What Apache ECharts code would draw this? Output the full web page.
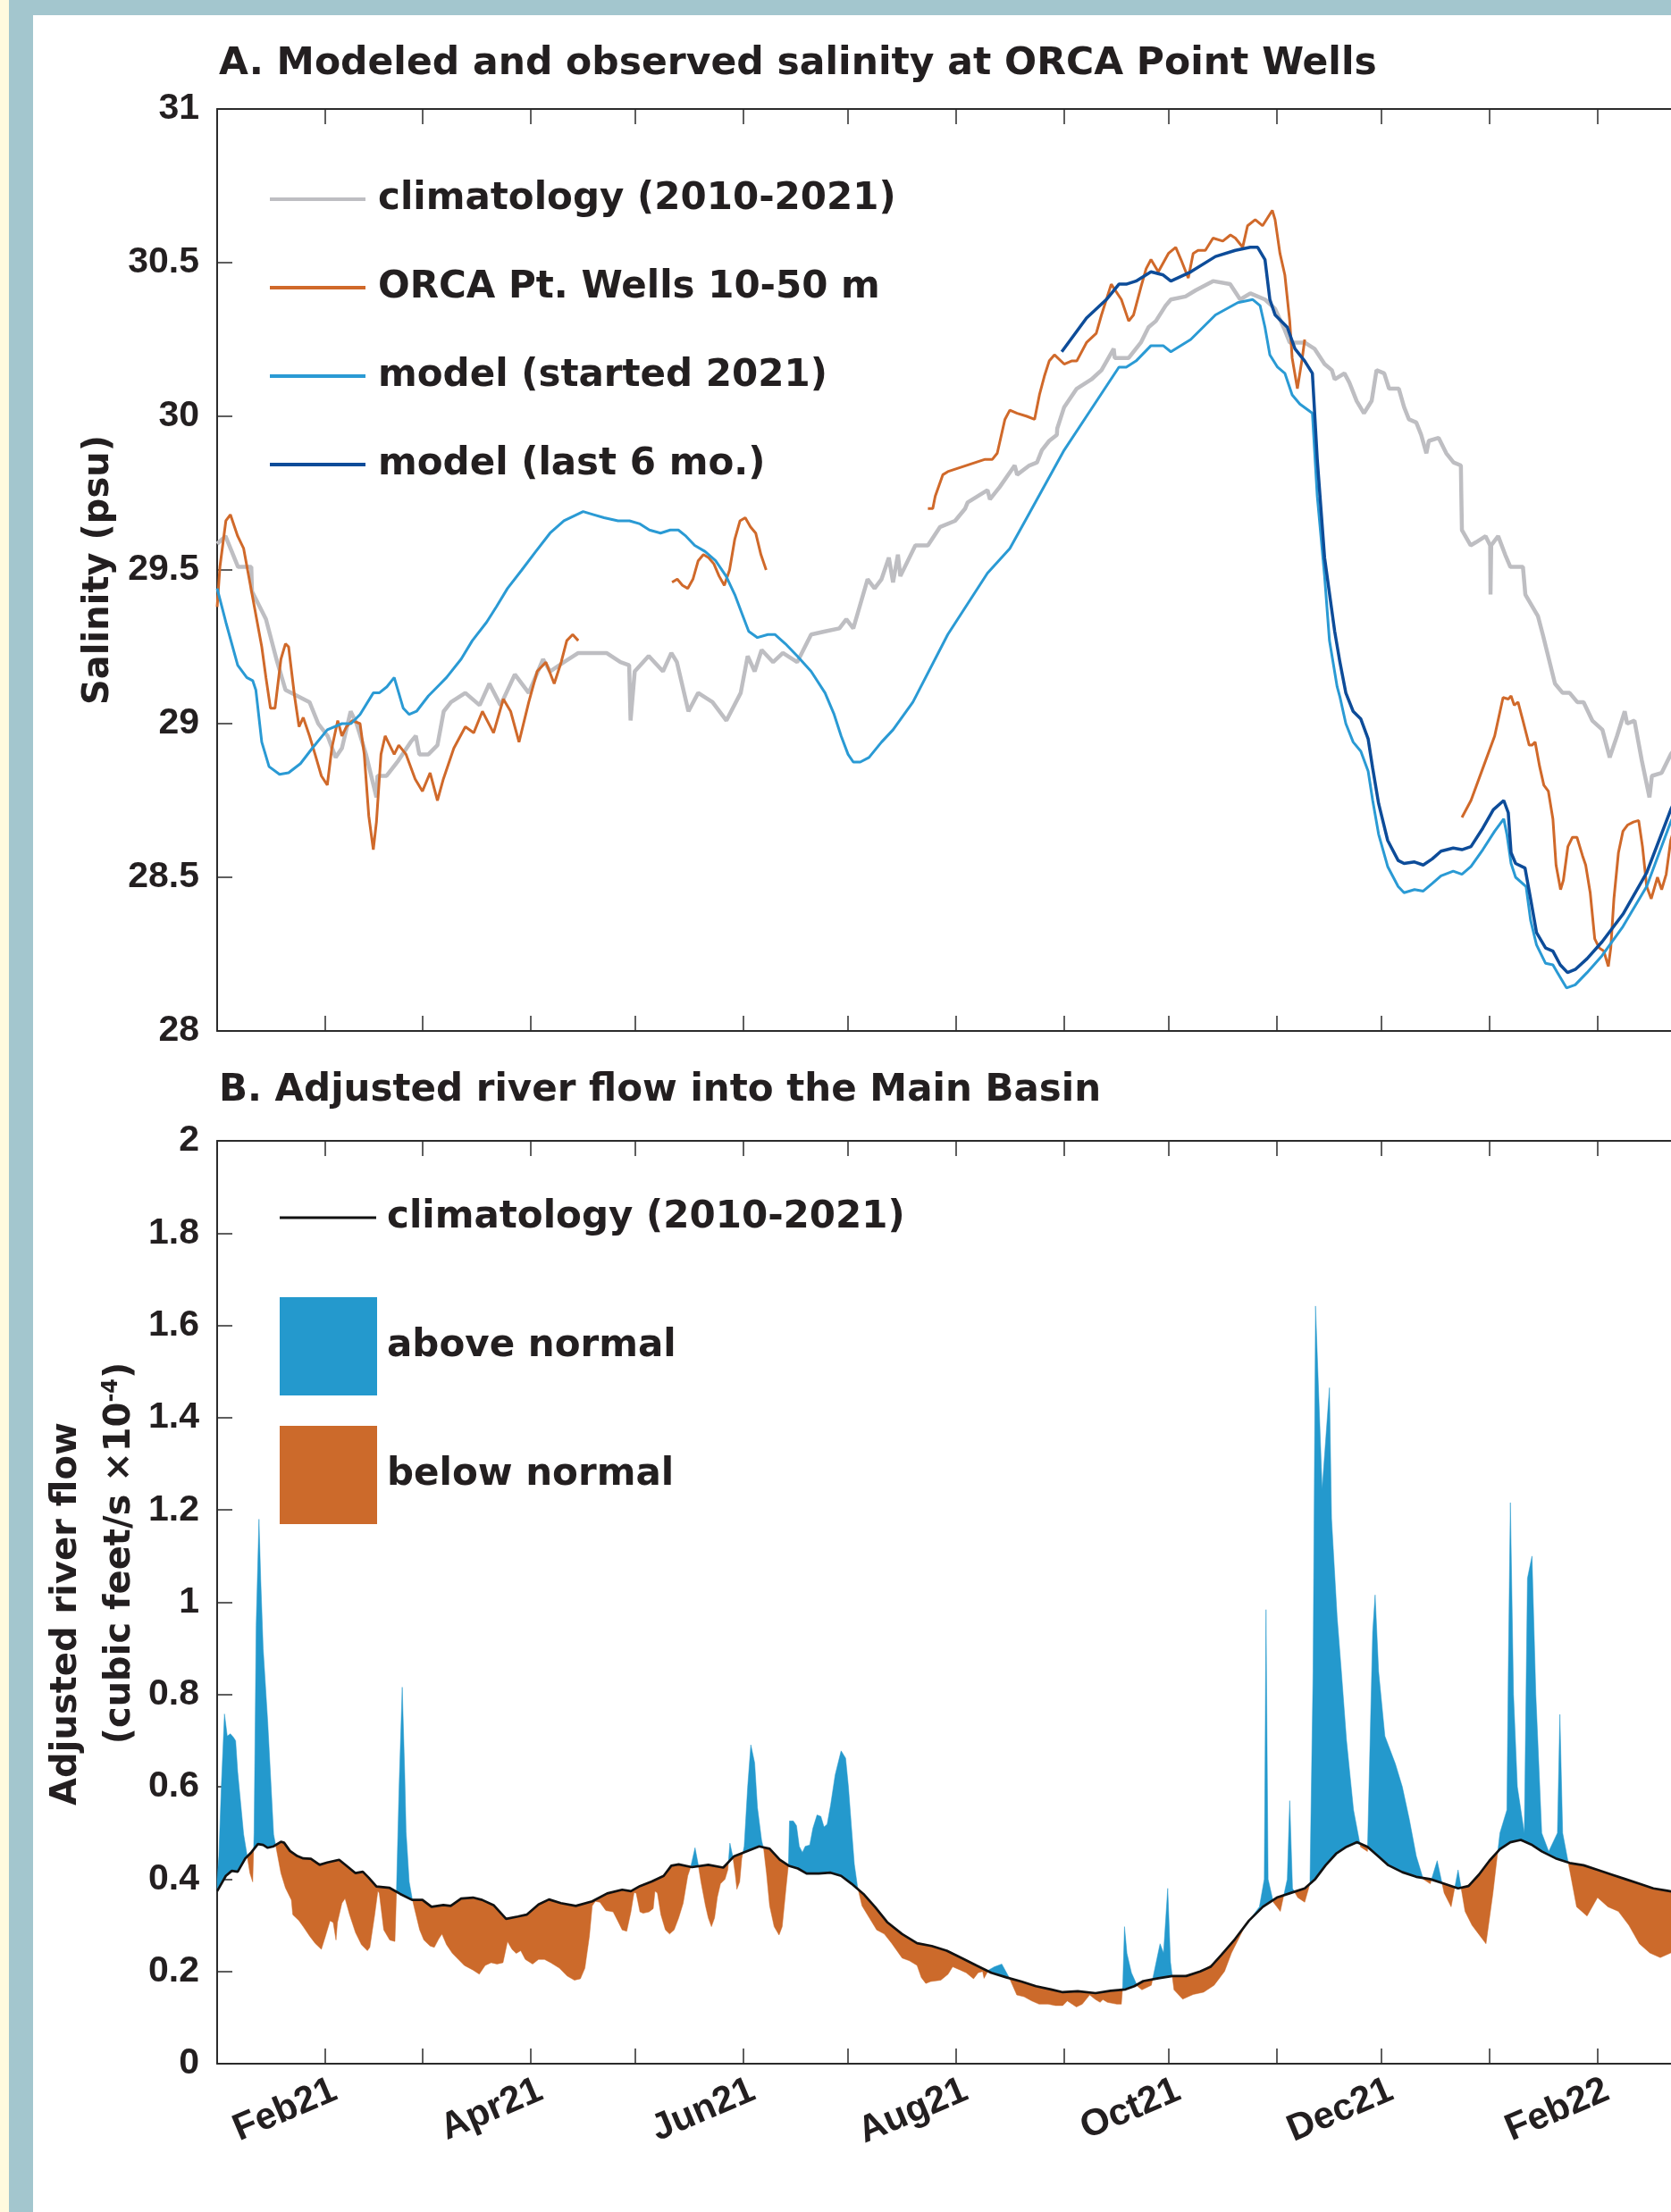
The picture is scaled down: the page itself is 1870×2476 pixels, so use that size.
<!DOCTYPE html>
<html><head><meta charset="utf-8">
<script src="https://cdn.jsdelivr.net/npm/echarts@6/dist/echarts.min.js"></script>
<style>html,body{margin:0;padding:0;background:#fff;}#c{width:1870px;height:2476px;}</style>
</head><body><div id="c"></div>
<script>
// x = days since 1 Jan 2021
const monthStartDays = [0,31,59,90,120,151,181,212,243,273,304,334,365,396,424];
const labelDays = [31,90,151,212,273,334,396];
const labelNames = ['Feb21','Apr21','Jun21','Aug21','Oct21','Dec21','Feb22'];

// ---------- Panel A: salinity (psu) ----------
const salClim = [[0,29.585],[2.4,29.61],[6,29.51],[9.8,29.51],[10,29.43],[14,29.34],[17,29.21],[19.6,29.11],[23,29.09],[26.5,29.07],[29,29.0],[31.7,28.96],[34,28.89],[35.8,28.92],[38.3,29.04],[40,29.0],[42.7,28.9],[45.7,28.76],[46,28.83],[48.6,28.83],[52,28.88],[55.5,28.94],[57,28.96],[58,28.9],[60.6,28.9],[63.2,28.93],[65,29.04],[67.1,29.07],[71.2,29.1],[75.3,29.06],[78.1,29.13],[81.3,29.06],[85.4,29.16],[89.4,29.1],[93.5,29.21],[95.5,29.17],[99.5,29.2],[103.6,29.23],[107.6,29.23],[111.7,29.23],[115.7,29.2],[118.2,29.19],[118.6,29.01],[119.8,29.17],[123.8,29.22],[127.9,29.17],[130.3,29.23],[131.9,29.2],[135.2,29.04],[138,29.1],[142.1,29.07],[146.1,29.01],[150.2,29.1],[152.2,29.22],[154.2,29.17],[156.2,29.24],[159.5,29.2],[162.3,29.23],[166.4,29.2],[170.4,29.29],[174.4,29.3],[178.5,29.31],[180.5,29.34],[182.5,29.31],[186.6,29.47],[188.6,29.44],[190.6,29.47],[192.7,29.54],[193.9,29.46],[195.3,29.55],[196,29.48],[200.3,29.58],[203.9,29.58],[207.4,29.64],[211.7,29.66],[214.6,29.7],[215.3,29.72],[221,29.76],[221.7,29.73],[224.5,29.77],[228.8,29.84],[229.5,29.81],[233,29.84],[235.2,29.85],[236.6,29.89],[238.7,29.92],[240.9,29.94],[241,29.96],[243,30.03],[246.6,30.09],[250.8,30.12],[253.7,30.15],[257.2,30.22],[257.5,30.19],[261.5,30.19],[265,30.24],[267.2,30.29],[269.3,30.31],[272.1,30.36],[273.6,30.38],[277.8,30.39],[280.7,30.41],[285.7,30.44],[290.6,30.43],[293.5,30.38],[296.4,30.4],[300.6,30.38],[303.5,30.35],[306.3,30.28],[307.7,30.24],[312,30.24],[314.8,30.22],[317.7,30.17],[319.8,30.15],[320.6,30.12],[323.4,30.14],[324.8,30.11],[326.9,30.05],[329,30.01],[331.2,30.05],[332.6,30.15],[334.8,30.14],[336.2,30.09],[339,30.09],[340.5,30.03],[341.9,29.99],[344,29.98],[345.4,29.94],[346.9,29.88],[347.6,29.92],[350.4,29.93],[352.6,29.88],[354.7,29.85],[356.8,29.84],[356.9,29.76],[357.1,29.63],[359.6,29.58],[361.1,29.59],[363.9,29.61],[365.2,29.58],[365.3,29.42],[365.5,29.58],[367.5,29.61],[369.5,29.55],[371,29.51],[372.5,29.51],[374.6,29.51],[375.3,29.42],[378.9,29.35],[380.3,29.29],[383.8,29.13],[386,29.1],[388,29.1],[390.2,29.07],[392,29.07],[394.5,29.01],[397.4,28.98],[399.5,28.89],[401.6,28.96],[403.8,29.04],[404.5,29.0],[406.6,29.01],[408.7,28.88],[410.9,28.76],[411.6,28.83],[414.4,28.84],[417,28.9],[421,28.96]];

const orcaSeg1 = [[0,29.38],[0.8,29.51],[2.5,29.66],[3.8,29.68],[5.9,29.61],[7.6,29.57],[10.2,29.41],[12.8,29.25],[14,29.15],[15.3,29.05],[16.6,29.05],[18.3,29.21],[19.6,29.26],[20.5,29.25],[22.2,29.09],[23.5,28.99],[24.7,29.02],[26.5,28.96],[28.1,28.9],[29.9,28.83],[31.6,28.8],[32.9,28.92],[34.6,29.01],[35.8,28.96],[37.1,28.99],[38.8,29.01],[41,29.0],[42.2,28.9],[43.5,28.7],[44.8,28.59],[45.7,28.68],[47,28.9],[48.2,28.96],[49.5,28.93],[50.8,28.9],[52.1,28.93],[54.2,28.9],[56.8,28.82],[58.9,28.78],[61.1,28.84],[63.2,28.75],[64.9,28.82],[67.9,28.92],[71.2,28.99],[73.6,28.97],[76.1,29.04],[79.3,28.97],[82.1,29.08],[84.2,29.04],[86.6,28.94],[89.4,29.07],[91.8,29.17],[94.3,29.2],[96.7,29.13],[98.7,29.2],[100.3,29.27],[102,29.29],[103.6,29.27]];
const orcaSeg2 = [[130.5,29.46],[132,29.47],[133.5,29.45],[135,29.44],[136.5,29.47],[138,29.53],[139.5,29.55],[141,29.54],[142.5,29.52],[144,29.48],[145.5,29.45],[147,29.5],[148.5,29.6],[150,29.66],[151.5,29.67],[153,29.64],[154.5,29.62],[156,29.55],[157.5,29.5]];
const orcaSeg3 = [[203.9,29.7],[205.3,29.7],[206,29.74],[208.2,29.81],[209.6,29.82],[220.3,29.86],[222.4,29.86],[223.8,29.88],[226,29.99],[227.4,30.02],[229.5,30.01],[232.3,30.0],[234.5,29.99],[235.9,30.07],[237.3,30.13],[238.7,30.18],[240.2,30.2],[243,30.17],[245.1,30.18],[246.6,30.18],[249.4,30.24],[252.2,30.27],[253.7,30.33],[256.5,30.43],[259.4,30.38],[261.5,30.31],[262.9,30.33],[265,30.42],[266.5,30.48],[267.9,30.51],[270,30.47],[272.9,30.53],[275,30.55],[276.5,30.51],[278.6,30.45],[280,30.53],[281.4,30.54],[283.5,30.54],[285.7,30.58],[288.5,30.57],[290.7,30.59],[292.1,30.58],[294.2,30.55],[295.6,30.62],[297.8,30.64],[299.9,30.62],[302.7,30.67],[303.5,30.64],[304.9,30.53],[306.3,30.46],[307.7,30.31],[308.4,30.19],[309.9,30.09],[311.3,30.19],[312,30.25]];
const orcaSeg4 = [[357.1,28.695],[359.7,28.75],[363.1,28.855],[366.5,28.96],[368.9,29.085],[370.4,29.08],[371.2,29.09],[372.1,29.06],[373.2,29.07],[374.6,29.01],[376.4,28.93],[377.2,28.93],[378.1,28.94],[379.4,28.86],[380.6,28.8],[381.9,28.78],[383.2,28.69],[384.1,28.54],[385.4,28.46],[386.2,28.49],[387.5,28.6],[388.8,28.63],[390.1,28.63],[391.7,28.57],[392.6,28.54],[393.9,28.45],[395.2,28.3],[396.5,28.27],[397.8,28.26],[399.1,28.21],[399.8,28.27],[400.7,28.43],[402,28.58],[403.3,28.65],[404.6,28.67],[406.3,28.68],[407.8,28.685],[408.9,28.6],[410.1,28.47],[411.4,28.43],[413.2,28.5],[414.4,28.46],[415.7,28.51],[417,28.62],[419,28.7]];

const modelStart = [[0,29.44],[2.5,29.33],[5.9,29.19],[8.5,29.15],[10.2,29.14],[11.1,29.11],[12.8,28.94],[14.9,28.86],[17.9,28.835],[20.5,28.84],[23.9,28.87],[27.3,28.92],[31.6,28.98],[35.8,29.0],[38.4,29.0],[41,29.03],[44.8,29.1],[46.5,29.1],[48.7,29.12],[50.8,29.15],[52.1,29.1],[53.4,29.05],[55.1,29.03],[57.2,29.04],[60.6,29.09],[63.2,29.12],[65.8,29.15],[70,29.21],[73.2,29.27],[77.3,29.33],[80.1,29.38],[83.3,29.44],[87.4,29.5],[91.4,29.56],[95.5,29.62],[99.5,29.66],[105,29.69],[108,29.68],[111,29.67],[115,29.66],[118.3,29.66],[121.3,29.65],[124,29.63],[127.2,29.62],[130,29.63],[132.3,29.63],[134.5,29.61],[137,29.58],[140,29.56],[143,29.53],[146,29.48],[148.5,29.42],[150.5,29.36],[152.5,29.3],[155,29.28],[158,29.29],[160,29.29],[163,29.26],[166.4,29.22],[170.4,29.17],[174.4,29.1],[177,29.03],[179,28.96],[181,28.9],[182.5,28.875],[184.5,28.875],[187,28.89],[190.6,28.94],[193.9,28.98],[199.6,29.07],[209.6,29.29],[221,29.49],[227.4,29.57],[232.3,29.67],[243,29.89],[249.4,30.0],[258.7,30.16],[260.8,30.16],[263.6,30.18],[267.9,30.23],[271.4,30.23],[273.6,30.21],[279.3,30.25],[286.4,30.33],[292.8,30.37],[297.1,30.38],[299.2,30.36],[300.6,30.29],[302,30.2],[304.2,30.16],[306.3,30.14],[308.4,30.07],[310.6,30.04],[314.2,30.01],[315.6,29.74],[317.7,29.48],[319.1,29.27],[321.3,29.12],[322.1,29.087],[323.8,29.0],[325.9,28.94],[328.1,28.91],[330.2,28.845],[331.5,28.75],[333.2,28.64],[335.8,28.535],[338.8,28.47],[340.5,28.45],[343.5,28.46],[346,28.455],[348.6,28.48],[351.1,28.505],[354.6,28.52],[357.1,28.51],[359.7,28.535],[363.1,28.59],[366.5,28.65],[369.1,28.69],[370,28.64],[371.2,28.545],[372.5,28.5],[375.5,28.47],[376.8,28.36],[378.5,28.28],[381.1,28.22],[383.2,28.215],[384.5,28.19],[387.1,28.14],[389.6,28.15],[393,28.19],[397.3,28.245],[403.3,28.34],[410.1,28.47],[417,28.68],[421,28.78]];

const modelLast = [[242.3,30.21],[249.4,30.32],[255.1,30.38],[258.7,30.43],[260.8,30.43],[263.6,30.44],[267.9,30.47],[271.4,30.46],[273.6,30.44],[279.3,30.47],[286.4,30.52],[292.1,30.54],[296.4,30.55],[298.5,30.55],[300.6,30.51],[302,30.38],[303.5,30.33],[307,30.29],[309.2,30.22],[312,30.18],[314.2,30.14],[315.6,29.86],[317.7,29.54],[320.6,29.3],[322.1,29.2],[323.8,29.1],[325.9,29.04],[328.1,29.015],[330.2,28.95],[331.5,28.855],[333.2,28.74],[335.8,28.62],[338.8,28.555],[340.5,28.545],[343.5,28.55],[346,28.54],[348.6,28.56],[351.1,28.585],[354.6,28.595],[357.1,28.59],[359.7,28.6],[363.1,28.66],[366.1,28.72],[369.1,28.75],[370.4,28.71],[371.2,28.58],[372.5,28.545],[375.2,28.53],[376.8,28.43],[378.5,28.32],[381.1,28.27],[383.2,28.26],[385.3,28.215],[387.4,28.19],[389.6,28.2],[393,28.235],[397.3,28.29],[403.3,28.38],[410.1,28.515],[417,28.72],[421,28.82]];

// ---------- Panel B: adjusted river flow (cubic feet/s x 1e-4) ----------
const flowClim = [[0,0.374],[2.5,0.407],[4.2,0.418],[5.9,0.416],[8.1,0.445],[9.8,0.458],[11.7,0.476],[13.2,0.474],[14.5,0.468],[16.2,0.471],[18.3,0.481],[19.2,0.479],[20.9,0.461],[23,0.45],[24.7,0.445],[26.9,0.444],[29.4,0.431],[31.6,0.436],[35,0.442],[37.6,0.426],[39.7,0.413],[41.8,0.416],[43.5,0.403],[45.7,0.384],[49.5,0.381],[52.5,0.368],[55.9,0.355],[58.9,0.355],[61.5,0.34],[64.9,0.344],[67,0.342],[70,0.358],[73.4,0.36],[76,0.355],[79.4,0.343],[82.9,0.314],[86.3,0.319],[88.8,0.323],[92.2,0.345],[95.2,0.356],[98.6,0.348],[102.9,0.342],[107.6,0.352],[111.9,0.369],[116.2,0.377],[118.7,0.374],[121.3,0.385],[124.7,0.395],[128.1,0.407],[130.3,0.429],[132.4,0.432],[136.2,0.426],[140.9,0.431],[145.2,0.425],[148.2,0.449],[152.1,0.461],[155.5,0.471],[158.5,0.466],[161.4,0.442],[164,0.429],[166.6,0.423],[169.1,0.412],[172.6,0.412],[176,0.414],[179,0.407],[182,0.39],[185.4,0.368],[188.8,0.339],[192.2,0.307],[196.5,0.281],[200.8,0.261],[205,0.255],[209.3,0.245],[213.6,0.229],[217.8,0.213],[222.1,0.197],[226.4,0.187],[230.7,0.178],[234.9,0.168],[239.2,0.161],[242.6,0.155],[246.9,0.157],[252,0.153],[256.3,0.158],[260.6,0.161],[263.1,0.168],[265.7,0.179],[270,0.185],[274,0.19],[278,0.19],[282,0.2],[285,0.21],[288,0.235],[292,0.27],[296,0.31],[300,0.34],[304,0.36],[308,0.37],[312,0.38],[315,0.4],[318,0.43],[321,0.455],[324,0.47],[327,0.48],[330,0.47],[333,0.45],[336,0.43],[340,0.415],[344,0.405],[348,0.4],[352,0.39],[356,0.38],[359,0.385],[362,0.41],[365,0.44],[368,0.465],[371,0.48],[374,0.485],[377,0.475],[380,0.46],[384,0.445],[388,0.435],[392,0.43],[396,0.42],[400,0.41],[404,0.4],[408,0.39],[412,0.38],[416,0.375],[420,0.37]];

const flowObs = [[0,0.4],[0.5,0.45],[1.2,0.6],[2.1,0.758],[2.9,0.71],[3.8,0.715],[4.7,0.707],[5.3,0.7],[5.9,0.632],[6.8,0.561],[7.6,0.497],[8.3,0.465],[9.4,0.413],[10.2,0.394],[10.6,0.5],[11.2,0.95],[12,1.18],[12.5,1.05],[13.2,0.9],[14.5,0.742],[16.2,0.497],[17,0.465],[18.3,0.413],[19.6,0.381],[21.3,0.355],[21.7,0.323],[23.5,0.31],[24.7,0.297],[26.5,0.277],[28.1,0.261],[29.9,0.248],[31.1,0.277],[32.4,0.31],[33.3,0.306],[34.1,0.268],[34.5,0.306],[35.8,0.348],[36.7,0.358],[38,0.323],[39.7,0.284],[41.4,0.258],[43.1,0.245],[43.8,0.252],[45.2,0.323],[46.1,0.374],[46.5,0.37],[47.8,0.29],[49.5,0.268],[51,0.265],[51.4,0.361],[52.2,0.6],[53.1,0.816],[53.8,0.632],[54.2,0.503],[55.1,0.394],[55.9,0.36],[56.5,0.34],[58.1,0.29],[59.3,0.268],[61.1,0.255],[62.3,0.252],[63.6,0.271],[64.5,0.281],[65.8,0.258],[67.5,0.239],[69.2,0.226],[70.9,0.213],[73.4,0.203],[75.2,0.194],[76.9,0.213],[78.6,0.219],[80.3,0.216],[82,0.219],[83.3,0.265],[84.6,0.248],[85.8,0.239],[87.1,0.245],[88.4,0.226],[90.5,0.216],[92.2,0.226],[93.9,0.226],[95.7,0.219],[98.2,0.207],[100.4,0.19],[102.5,0.181],[104.2,0.184],[105.5,0.207],[106.8,0.277],[107.6,0.342],[108.5,0.352],[109.8,0.35],[111.5,0.332],[113.6,0.329],[114.9,0.31],[116.2,0.29],[117.5,0.287],[118.7,0.329],[119.6,0.371],[120.2,0.37],[121.3,0.329],[122.2,0.326],[123.9,0.329],[125.1,0.336],[125.6,0.374],[126.3,0.37],[127.3,0.323],[128.6,0.29],[129.8,0.281],[131.1,0.29],[132.4,0.316],[133.7,0.348],[135,0.407],[135.8,0.425],[137.1,0.468],[138,0.432],[138.8,0.394],[140.1,0.342],[140.9,0.316],[141.8,0.297],[142.7,0.316],[143.5,0.361],[144.4,0.39],[145.7,0.4],[146.5,0.42],[147.1,0.478],[147.9,0.45],[148.6,0.413],[149.1,0.378],[149.9,0.394],[150.5,0.445],[151.2,0.471],[152.2,0.6],[153.1,0.691],[154.2,0.652],[155,0.555],[156.2,0.484],[156.8,0.465],[157.6,0.413],[158.5,0.342],[159.8,0.297],[161.2,0.279],[162.1,0.297],[163.2,0.381],[163.9,0.432],[164.2,0.526],[165.3,0.526],[166.2,0.516],[167,0.471],[167.9,0.458],[168.7,0.471],[170,0.474],[170.9,0.51],[172.1,0.539],[173.2,0.536],[174.1,0.513],[175,0.519],[176,0.561],[177.3,0.626],[179,0.678],[180.3,0.662],[181.1,0.6],[182,0.51],[182.8,0.432],[183.7,0.384],[185,0.342],[187.1,0.316],[189.2,0.29],[191.4,0.281],[193.5,0.261],[196.5,0.229],[198.6,0.223],[200.8,0.213],[202,0.187],[203.3,0.174],[204.7,0.178],[207.6,0.181],[209.7,0.194],[211,0.21],[213.2,0.203],[214.9,0.197],[217,0.184],[218.3,0.197],[219.6,0.2],[220,0.185],[221.3,0.203],[223,0.21],[225.1,0.216],[227.2,0.187],[229.4,0.149],[231.5,0.145],[233.7,0.136],[235.8,0.129],[238.4,0.129],[240.5,0.126],[242.6,0.126],[243.9,0.136],[246.5,0.123],[248.2,0.129],[250.3,0.149],[252,0.139],[253.3,0.133],[254.1,0.139],[255.4,0.133],[258.1,0.129],[259.4,0.129],[259.8,0.17],[260.3,0.297],[261,0.239],[262.3,0.197],[264,0.168],[265.3,0.16],[268,0.17],[270.5,0.26],[271.5,0.24],[272.7,0.38],[273.5,0.22],[274.5,0.16],[277,0.14],[280,0.15],[283,0.155],[286,0.17],[289,0.2],[291,0.24],[293,0.27],[295,0.3],[297,0.32],[299,0.34],[300.4,0.4],[300.9,0.984],[301.5,0.4],[303,0.35],[305,0.33],[307,0.4],[307.7,0.57],[308.5,0.38],[310,0.36],[312,0.35],[313.5,0.39],[314.4,0.85],[315.1,1.642],[317,1.245],[319.1,1.465],[319.7,1.181],[321.3,0.968],[322.5,0.852],[324,0.7],[326,0.55],[328,0.47],[330,0.46],[331.5,0.936],[332.2,1.016],[333.2,0.85],[335,0.71],[338,0.65],[340,0.6],[342,0.53],[344,0.45],[346,0.4],[348,0.39],[350,0.44],[352,0.37],[354,0.34],[356,0.42],[358,0.33],[360,0.3],[362,0.28],[364,0.26],[366,0.37],[368,0.5],[370,0.55],[370.4,0.85],[371,1.216],[371.9,0.8],[373,0.6],[375,0.5],[375.9,1.052],[377.2,1.1],[378.3,0.8],[380,0.5],[382,0.46],[384.5,0.5],[385.2,0.757],[386,0.5],[388,0.42],[390,0.34],[393,0.32],[396,0.36],[399,0.34],[402,0.33],[405,0.3],[408,0.26],[411,0.24],[414,0.23],[417,0.24],[420,0.26]];

// ---------- build ----------
const C_GRAY = '#BEBEC2', C_ORCA = '#D0692A', C_LB = '#2A9AD4', C_DB = '#0D4C99';
const C_ABOVE = '#2499CD', C_BELOW = '#CC6A2B', INK = '#231f20', AX = '#2b2b2b';
const TF = '"Liberation Sans", Arial, Helvetica, sans-serif';
const DF = '"DejaVu Sans", sans-serif';

function climAt(d) {
  for (let i = 1; i < flowClim.length; i++) {
    if (d <= flowClim[i][0]) {
      const [d0, v0] = flowClim[i-1], [d1, v1] = flowClim[i];
      return v0 + (v1 - v0) * (d - d0) / (d1 - d0);
    }
  }
  return flowClim[flowClim.length-1][1];
}
// contiguous regions between observed flow and climatology, split where they cross
function buildRegions() {
  const out = [];
  const sgn = e => (e > 0 ? 1 : (e < 0 ? -1 : 0));
  let cur = null;
  for (let i = 0; i < flowObs.length; i++) {
    const [d, o] = flowObs[i], c = climAt(d), s = sgn(o - c);
    if (!cur) { cur = { s: s || 1, top: [[d, o]], bot: [[d, c]] }; continue; }
    if (s === 0 || s === cur.s) { cur.top.push([d, o]); cur.bot.push([d, c]); continue; }
    const [pd, po] = flowObs[i-1], pc = climAt(pd);
    const e0 = po - pc, e1 = o - c, t = e0 / (e0 - e1);
    const xd = pd + t * (d - pd), xy = pc + t * (c - pc);
    cur.top.push([xd, xy]); cur.bot.push([xd, xy]); out.push(cur);
    cur = { s, top: [[xd, xy], [d, o]], bot: [[xd, xy], [d, c]] };
  }
  out.push(cur);
  return out;
}
const regions = buildRegions();
const regAbove = regions.filter(r => r.s > 0), regBelow = regions.filter(r => r.s < 0);
function regionData(list) {
  return list.map((r, i) => {
    const ys = r.top.concat(r.bot).map(p => p[1]);
    return [r.top[0][0], r.top[r.top.length-1][0], i, Math.min(...ys), Math.max(...ys)];
  });
}
function regionRenderer(list, color) {
  return function (params, api) {
    const r = list[api.value(2)];
    const pts = r.top.concat(r.bot.slice().reverse()).map(p => api.coord(p));
    return { type: 'polygon', shape: { points: pts }, style: { fill: color, stroke: color, lineWidth: 0.5 } };
  };
}
const gap = [null, null];
const orcaAll = [...orcaSeg1, gap, ...orcaSeg2, gap, ...orcaSeg3, gap, ...orcaSeg4];

function xAx(gridIndex, position, labels) {
  return {
    type: 'value', gridIndex, position, min: 0, max: 424,
    axisLine: { show: true, onZero: false, lineStyle: { color: AX, width: 2 } },
    axisTick: { show: true, inside: true, length: 17, customValues: monthStartDays, lineStyle: { color: AX, width: 1.5 } },
    axisLabel: labels ? {
      show: true, customValues: labelDays, rotate: 23, margin: 33, padding: [0, -12, 0, 0],
      formatter: v => labelNames[labelDays.indexOf(Math.round(v))],
      fontFamily: TF, fontWeight: 'bold', fontSize: 42, color: INK
    } : { show: false },
    splitLine: { show: false }
  };
}
function yAx(gridIndex, min, max, interval, name, nameGap, nameStyle) {
  return {
    type: 'value', gridIndex, min, max, interval,
    axisLine: { show: true, lineStyle: { color: AX, width: 2 } },
    axisTick: { show: true, inside: true, length: 17, lineStyle: { color: AX, width: 1.5 } },
    axisLabel: { fontFamily: TF, fontWeight: 'bold', fontSize: 41, color: INK, margin: 20 },
    splitLine: { show: false },
    name, nameLocation: 'middle', nameRotate: 90, nameGap, nameMoveOverlap: false,
    nameTextStyle: nameStyle
  };
}
const lineBase = { type: 'line', symbol: 'none', showSymbol: false, animation: false, smooth: false };
const yNameB = '{l1|Adjusted river flow}\n{l2|(cubic feet/s \u00d710}{sup|-4}{l2e|)}';

const option = {
  animation: false,
  backgroundColor: '#ffffff',
  graphic: [
    { type: 'rect', shape: { x: 0, y: 0, width: 1870, height: 17 }, style: { fill: '#A3C6CE' }, silent: true },
    { type: 'rect', shape: { x: 0, y: 0, width: 37, height: 2476 }, style: { fill: '#A3C6CE' }, silent: true },
    { type: 'rect', shape: { x: 0, y: 0, width: 10, height: 2476 }, style: { fill: '#FFFADE' }, silent: true }
  ],
  title: [
    { text: 'A. Modeled and observed salinity at ORCA Point Wells', left: 245, top: 50, padding: 0,
      textStyle: { fontFamily: DF, fontWeight: 'bold', fontSize: 42.5, color: INK } },
    { text: 'B. Adjusted river flow into the Main Basin', left: 245, top: 1200, padding: 0,
      textStyle: { fontFamily: DF, fontWeight: 'bold', fontSize: 42, color: INK } }
  ],
  legend: [
    { left: 302, top: 202, orient: 'vertical', padding: 0, itemWidth: 107, itemHeight: 4, itemGap: 57, icon: 'rect', selectedMode: false,
      textStyle: { fontFamily: DF, fontWeight: 'bold', fontSize: 42, color: INK, padding: [0, 0, 0, 9] },
      data: ['climatology (2010-2021)', 'ORCA Pt. Wells 10-50 m', 'model (started 2021)', 'model (last 6 mo.)'] },
    { left: 313, top: 1342, orient: 'vertical', padding: 0, itemWidth: 108, itemHeight: 3, icon: 'rect', selectedMode: false,
      formatter: () => 'climatology (2010-2021)',
      textStyle: { fontFamily: DF, fontWeight: 'bold', fontSize: 42, color: INK, padding: [0, 0, 0, 7] },
      data: ['flow climatology'] },
    { left: 313, top: 1452, orient: 'vertical', padding: 0, itemWidth: 109, itemHeight: 110, itemGap: 34, icon: 'rect', selectedMode: false,
      textStyle: { fontFamily: DF, fontWeight: 'bold', fontSize: 42, color: INK, padding: [6, 0, 0, 6] },
      data: ['above normal', 'below normal'] }
  ],
  grid: [
    { left: 243, top: 122, width: 1654, height: 1032, outerBoundsMode: 'none', containLabel: false },
    { left: 243, top: 1277, width: 1654, height: 1033, outerBoundsMode: 'none', containLabel: false }
  ],
  xAxis: [ xAx(0, 'bottom', false), xAx(0, 'top', false), xAx(1, 'bottom', true), xAx(1, 'top', false) ],
  yAxis: [
    yAx(0, 28, 31, 0.5, 'Salinity (psu)', 112, { fontFamily: DF, fontWeight: 'bold', fontSize: 40, color: INK }),
    yAx(1, 0, 2, 0.2, yNameB, 78, {
      fontFamily: DF, fontWeight: 'bold', fontSize: 40, color: INK,
      rich: {
        l1: { fontFamily: DF, fontWeight: 'bold', fontSize: 40, lineHeight: 60, color: INK, padding: [0, 26, 0, 0] },
        l2: { fontFamily: DF, fontWeight: 'bold', fontSize: 40, lineHeight: 60, color: INK, padding: [0, 0, 0, 110] },
        l2e: { fontFamily: DF, fontWeight: 'bold', fontSize: 40, lineHeight: 60, color: INK },
        sup: { fontFamily: DF, fontWeight: 'bold', fontSize: 24, lineHeight: 60, verticalAlign: 'top', padding: [8, 0, 0, 0], color: INK }
      }
    })
  ],
  series: [
    { ...lineBase, name: 'climatology (2010-2021)', xAxisIndex: 0, yAxisIndex: 0, data: salClim,
      itemStyle: { color: C_GRAY }, lineStyle: { color: C_GRAY, width: 4.5 } },
    { ...lineBase, name: 'ORCA Pt. Wells 10-50 m', xAxisIndex: 0, yAxisIndex: 0, data: orcaAll, connectNulls: false,
      itemStyle: { color: C_ORCA }, lineStyle: { color: C_ORCA, width: 3 } },
    { ...lineBase, name: 'model (started 2021)', xAxisIndex: 0, yAxisIndex: 0, data: modelStart,
      itemStyle: { color: C_LB }, lineStyle: { color: C_LB, width: 3 } },
    { ...lineBase, name: 'model (last 6 mo.)', xAxisIndex: 0, yAxisIndex: 0, data: modelLast,
      itemStyle: { color: C_DB }, lineStyle: { color: C_DB, width: 3.5 } },

    { type: 'custom', name: 'above normal', xAxisIndex: 2, yAxisIndex: 1, data: regionData(regAbove),
      dimensions: ['x0','x1','idx','ylo','yhi'], encode: { x: ['x0','x1'], y: ['ylo','yhi'] },
      itemStyle: { color: C_ABOVE }, renderItem: regionRenderer(regAbove, C_ABOVE), silent: true, animation: false },
    { type: 'custom', name: 'below normal', xAxisIndex: 2, yAxisIndex: 1, data: regionData(regBelow),
      dimensions: ['x0','x1','idx','ylo','yhi'], encode: { x: ['x0','x1'], y: ['ylo','yhi'] },
      itemStyle: { color: C_BELOW }, renderItem: regionRenderer(regBelow, C_BELOW), silent: true, animation: false },
    { ...lineBase, name: 'flow climatology', xAxisIndex: 2, yAxisIndex: 1, data: flowClim, z: 5,
      itemStyle: { color: '#111111' }, lineStyle: { color: '#111111', width: 2.7 } }
  ]
};
const chart = echarts.init(document.getElementById('c'), null, { renderer: 'canvas', width: 1870, height: 2476 });
chart.setOption(option);
</script></body></html>
